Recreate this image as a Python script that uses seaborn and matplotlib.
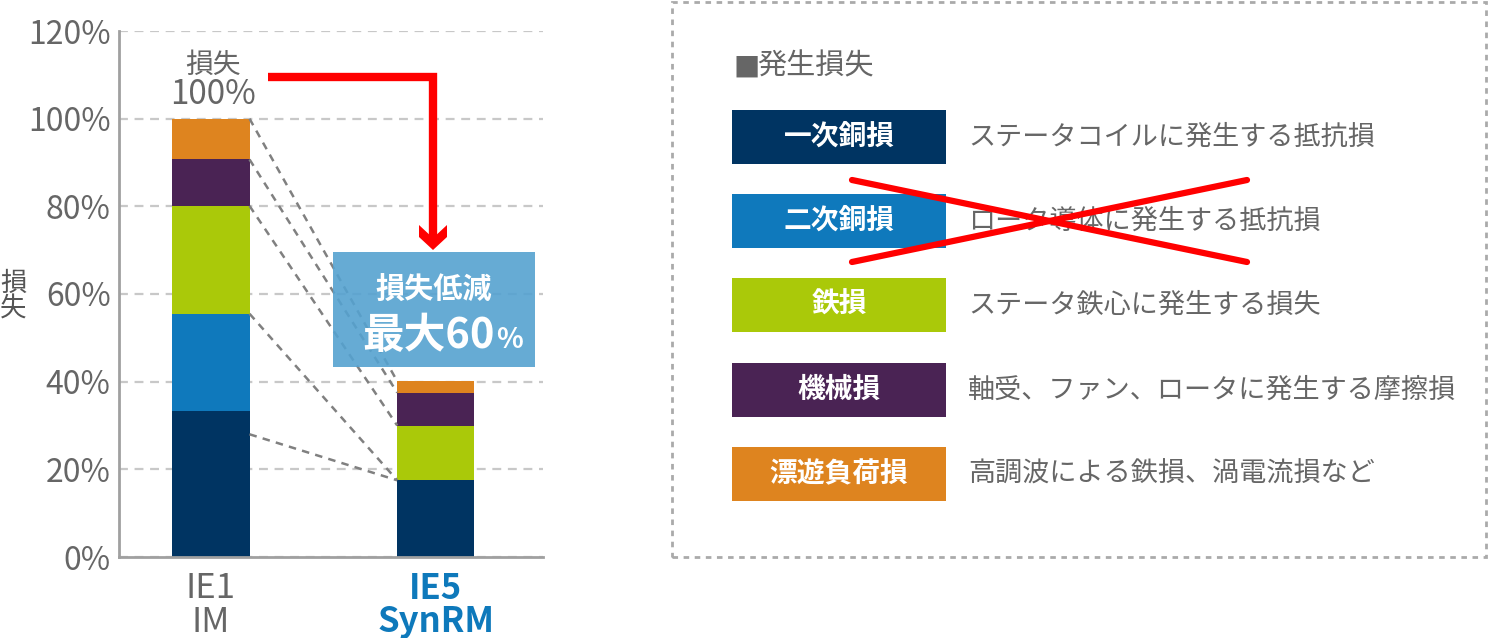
import matplotlib
matplotlib.use("Agg")
import matplotlib.pyplot as plt
from matplotlib.patches import Rectangle, Polygon
from matplotlib.lines import Line2D
import seaborn as sns
import pandas as pd
import numpy as np

# ---------------- data ----------------
models = ["IE1\nIM", "IE5\nSynRM"]
loss_names = ["一次銅損", "二次銅損", "鉄損", "機械損", "漂遊負荷損"]
loss_desc = ["ステータコイルに発生する抵抗損", "ロータ導体に発生する抵抗損",
             "ステータ鉄心に発生する損失", "軸受、ファン、ロータに発生する摩擦損",
             "高調波による鉄損、渦電流損など"]
primary_cu = [33.2, 17.5]
secondary_cu = [22.3, 0.0]
iron = [24.6, 12.5]
mechanical = [10.6, 7.5]
stray = [9.3, 2.6]
yticks = [0, 20, 40, 60, 80, 100, 120]
# connector dashed lines: level on IE1 -> level on IE5
conn_from = [100.0, 90.7, 80.1, 55.5, 28.0]
conn_to = [40.1, 37.5, 30.0, 17.5, 17.5]

colors = ["#003462", "#0f79bc", "#aac909", "#4a2354", "#de841f"]

W, H = 1488, 638
sns.set_theme(style="white")
plt.rcParams["font.family"] = ["Noto Sans CJK JP", "DejaVu Sans"]

fig = plt.figure(figsize=(W / 100, H / 100), dpi=100)
fig.patch.set_facecolor("white")

def fx(x):
    return x / W

def fy(y):
    return 1 - y / H

ax = fig.add_axes([fx(119), fy(557), (543 - 119) / W, (557 - 31) / H])

layers = [primary_cu, secondary_cu, iron, mechanical, stray]
cum = np.cumsum(np.array(layers), axis=0)
df = pd.DataFrame({"model": models})
for i in range(len(layers)):
    df[f"c{i}"] = cum[i]

bar_w = 0.343
for i in reversed(range(len(layers))):
    sns.barplot(data=df, x="model", y=f"c{i}", order=models, color=colors[i],
                width=bar_w, saturation=1, linewidth=0, errorbar=None, ax=ax,
                zorder=2)

ax.set_xlim(-0.409, 1.477)
ax.set_ylim(0, 120)
ax.set_yticks(yticks)
ax.set_yticklabels([f"{v}%" for v in yticks], fontsize=23, color="#666666")
ax.tick_params(axis="y", length=0, pad=6)
ax.tick_params(axis="x", length=0, pad=10)
ax.set_xlabel("")
ax.set_ylabel("")
ax.set_axisbelow(True)
ax.yaxis.grid(True, color="#c8c8c8", linestyle=(0, (4, 3)), linewidth=1.6)
ax.xaxis.grid(False)
for s in ["top", "right"]:
    ax.spines[s].set_visible(False)
for s in ["left", "bottom"]:
    ax.spines[s].set_color("#a0a0a0")
    ax.spines[s].set_linewidth(2)

ax.set_xticks([0, 1])
ax.set_xticklabels(models, fontsize=25, linespacing=0.95)
tl = ax.get_xticklabels()
tl[0].set_color("#666666")
tl[1].set_color("#0e79bb")
tl[1].set_fontweight("bold")

# connectors
x0 = 0 + bar_w / 2
x1 = 1 - bar_w / 2
for a, b in zip(conn_from, conn_to):
    ax.plot([x0, x1], [a, b], color="#808080", lw=1.8,
            linestyle=(0, (3, 2.5)), zorder=3)

# total label
fig.text(fx(213), fy(65), "損失", ha="center", va="center", fontsize=20,
         color="#666666", zorder=5)
fig.text(fx(213), fy(95), "100%", ha="center", va="center", fontsize=24,
         color="#666666", zorder=5)

# y label
fig.text(fx(13), fy(296), "損\n失", ha="center", va="center", fontsize=19,
         color="#555555", linespacing=0.95)

# reduction box
box = Rectangle((fx(333), fy(367)), (535 - 333) / W, (367 - 252) / H,
                transform=fig.transFigure, facecolor="#55a2d0", edgecolor="none",
                alpha=0.9, zorder=10)
fig.patches.append(box)
fig.text(fx(434), fy(289), "損失低減", ha="center", va="center", fontsize=21,
         color="white", fontweight="bold", zorder=11)
fig.text(fx(495), fy(348), "最大60", ha="right", va="baseline", fontsize=30,
         color="white", fontweight="bold", zorder=11)
fig.text(fx(496), fy(348), "%", ha="left", va="baseline", fontsize=20,
         color="white", fontweight="bold", zorder=11)

# red arrow
fig.add_artist(Line2D([fx(268), fx(433), fx(433)], [fy(77), fy(77), fy(240)],
                      transform=fig.transFigure, color="#ff0000", lw=6,
                      solid_joinstyle="miter", solid_capstyle="butt", zorder=12))
head = Polygon([(fx(419), fy(225)), (fx(419), fy(237)), (fx(433), fy(250)),
                (fx(447), fy(237)), (fx(447), fy(225)), (fx(433), fy(238))],
               closed=True, transform=fig.transFigure, facecolor="#ff0000",
               edgecolor="none", zorder=12)
fig.add_artist(head)

# legend panel
panel = Rectangle((fx(672), fy(557)), (1486 - 672) / W, (557 - 2) / H,
                  transform=fig.transFigure, facecolor="none", edgecolor="#aaaaaa",
                  lw=2, linestyle=(0, (2, 2)), zorder=1)
fig.patches.append(panel)
fig.text(fx(733), fy(66), "■", ha="left", va="center", fontsize=20,
         color="#666666", family=["DejaVu Sans"])
fig.text(fx(757), fy(66), "発生損失", ha="left", va="center", fontsize=21,
         color="#666666")

row_y = [137, 221, 305, 390, 474]
for name, desc, c, yc in zip(loss_names, loss_desc, colors, row_y):
    r = Rectangle((fx(732), fy(yc + 27)), (946 - 732) / W, 54 / H,
                  transform=fig.transFigure, facecolor=c, edgecolor="none")
    fig.patches.append(r)
    fig.text(fx(839), fy(yc), name, ha="center", va="center", fontsize=20,
             color="white", fontweight="bold")
    fig.text(fx(968), fy(yc), desc, ha="left", va="center", fontsize=19.5,
             color="#666666")

# red cross over secondary copper loss
fig.add_artist(Line2D([fx(852), fx(1247)], [fy(180), fy(262)],
                      transform=fig.transFigure, color="#ff0000", lw=4.5, zorder=12))
fig.add_artist(Line2D([fx(852), fx(1247)], [fy(262), fy(180)],
                      transform=fig.transFigure, color="#ff0000", lw=4.5, zorder=12))

fig.savefig("out.png", dpi=100, facecolor="white")
